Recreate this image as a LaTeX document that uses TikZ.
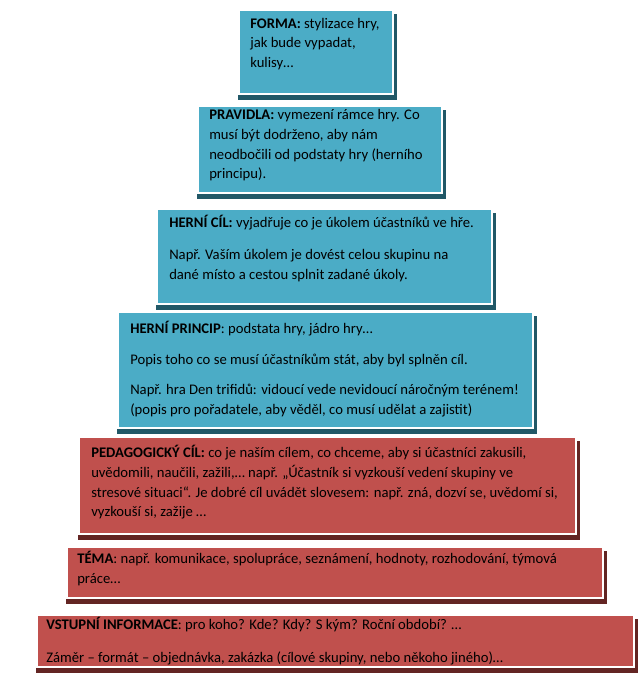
\documentclass[tikz,border=0pt]{standalone}
\usepackage{fontspec}
\setmainfont{Carlito}
\usepackage{tikz}
\definecolor{aqua}{HTML}{4BACC6}
\definecolor{aquashade}{HTML}{215867}
\definecolor{brick}{HTML}{C0504D}
\definecolor{brickshade}{HTML}{632523}
\tikzset{
  layertext/.style={anchor=north west,inner sep=0pt,align=left,text=black,
    font=\fontsize{11}{14.8}\selectfont,execute at begin node=\strut},
}

\begin{document}
\begin{tikzpicture}[x=0.75pt,y=-0.75pt]
\useasboundingbox (0,0) rectangle (643,678);
% pyramid layers: left/top/right/bottom/fill/shadow
\foreach \l/\t/\r/\b/\c/\s in {240/11/392/93/aqua/aquashade,
  199/107/441/192/aqua/aquashade, 158/210/491/303/aqua/aquashade,
  119/313/532/427/aqua/aquashade, 80/438/575/533/brick/brickshade,
  68/548/602/597/brick/brickshade, 38/616/633/666/brick/brickshade}{
  \fill[\s] (\l-2,\t+3) rectangle (\r+5,\b+7);
  \fill[white] (\l-3,\t-2) rectangle (\r+2,\b+2);
  \fill[\c] (\l,\t) rectangle (\r,\b);
}
\node[layertext] (forma) at (250,17.7) {\textbf{FORMA:} stylizace hry,\\jak bude vypadat,\\kulisy…};
\node[layertext] (pravidla) at (209,109.2) {\textbf{PRAVIDLA:} vymezení rámce hry. Co\\musí být dodrženo, aby nám\\neodbočili od podstaty hry (herního\\principu).};
\node[layertext] (hernicil) at (169,215.2) {\textbf{HERNÍ CÍL:} vyjadřuje co je úkolem účastníků ve hře.\\[9pt]Např. Vaším úkolem je dovést celou skupinu na\\dané místo a cestou splnit zadané úkoly.};
\node[layertext] (princip) at (130,321.2) {\textbf{HERNÍ PRINCIP}: podstata hry, jádro hry…\\[8pt]Popis toho co se musí účastníkům stát, aby byl splněn cíl.\\[8pt]Např. hra Den trifidů: vidoucí vede nevidoucí náročným terénem!\\(popis pro pořadatele, aby věděl, co musí udělat a zajistit)};
\node[layertext] (pedcil) at (91,445.2) {\textbf{PEDAGOGICKÝ CÍL:} co je naším cílem, co chceme, aby si účastníci zakusili,\\uvědomili, naučili, zažili,… např. „Účastník si vyzkouší vedení skupiny ve\\stresové situaci“. Je dobré cíl uvádět slovesem: např. zná, dozví se, uvědomí si,\\vyzkouší si, zažije …};
\node[layertext] (tema) at (77,551.2) {\textbf{TÉMA}: např. komunikace, spolupráce, seznámení, hodnoty, rozhodování, týmová\\práce…};
\begin{scope}
\clip (38,616) rectangle (633,666);
\node[layertext] (vstup) at (46,617.2) {\textbf{VSTUPNÍ INFORMACE}: pro koho? Kde? Kdy? S kým? Roční období? …\\[10pt]Záměr – formát – objednávka, zakázka (cílové skupiny, nebo někoho jiného)…};
\end{scope}
\end{tikzpicture}
\end{document}
